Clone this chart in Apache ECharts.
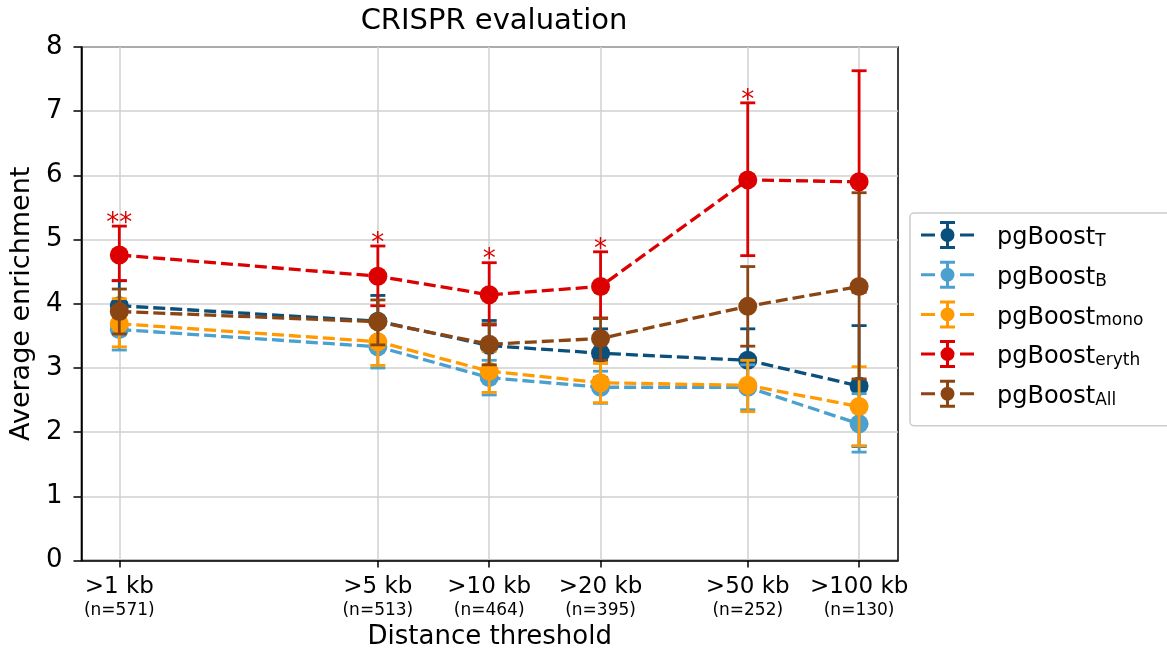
<!DOCTYPE html>
<html>
<head>
<meta charset="utf-8">
<script src="https://cdn.jsdelivr.net/npm/echarts@6/dist/echarts.min.js"></script>
<style>html,body{margin:0;padding:0;background:#fff}#c{width:1167px;height:655px}</style>
</head>
<body>
<div id="c"></div>
<script>
// ---- data ----
const thresholds = [1, 5, 10, 20, 50, 100];
const xLabels = ['>1 kb', '>5 kb', '>10 kb', '>20 kb', '>50 kb', '>100 kb'];
const nLabels = ['(n=571)', '(n=513)', '(n=464)', '(n=395)', '(n=252)', '(n=130)'];
const yTicks = [0, 1, 2, 3, 4, 5, 6, 7, 8];

const seriesNames = ['pgBoost_T', 'pgBoost_B', 'pgBoost_mono', 'pgBoost_eryth', 'pgBoost_All'];
const seriesSubs = ['T', 'B', 'mono', 'eryth', 'All'];
const seriesColors = ['#0b4f7c', '#4aa0cf', '#ff9a00', '#dc0000', '#8b4513'];

const tMean  = [3.97, 3.73, 3.35, 3.23, 3.12, 2.72];
const tLow   = [3.62, 3.33, 2.97, 2.85, 2.65, 1.78];
const tHigh  = [4.36, 4.13, 3.74, 3.61, 3.61, 3.66];

const bMean  = [3.60, 3.33, 2.85, 2.70, 2.70, 2.13];
const bLow   = [3.28, 3.00, 2.58, 2.45, 2.35, 1.69];
const bHigh  = [3.95, 3.68, 3.12, 2.95, 3.05, 2.60];

const monoMean = [3.69, 3.41, 2.95, 2.77, 2.73, 2.40];
const monoLow  = [3.33, 3.04, 2.62, 2.46, 2.32, 1.79];
const monoHigh = [4.08, 3.78, 3.26, 3.07, 3.12, 3.02];

const erythMean = [4.76, 4.43, 4.14, 4.27, 5.93, 5.90];
const erythLow  = [4.36, 3.97, 3.67, 3.78, 4.75, 4.18];
const erythHigh = [5.21, 4.90, 4.64, 4.81, 7.13, 7.63];

const allMean = [3.88, 3.72, 3.37, 3.46, 3.96, 4.27];
const allLow  = [3.53, 3.36, 3.05, 3.12, 3.34, 2.83];
const allHigh = [4.23, 4.06, 3.69, 3.77, 4.58, 5.73];

const erythStars = ['**', '*', '*', '*', '*', ''];

// ---- build ----
const means = [tMean, bMean, monoMean, erythMean, allMean];
const lows = [tLow, bLow, monoLow, erythLow, allLow];
const highs = [tHigh, bHigh, monoHigh, erythHigh, allHigh];
const FONT = '"DejaVu Sans", sans-serif';

function nearestIdx(v) {
  let best = 0, bd = Infinity;
  thresholds.forEach((t, i) => { const d = Math.abs(Math.log(t) - Math.log(v)); if (d < bd) { bd = d; best = i; } });
  return best;
}

const legendIcon = 'path://M0,12.5h14v3h-14z M39,12.5h14v3h-14z M25,1h3v26h-3z M19,0h15v3h-15z M19,25h15v3h-15z M19.5,14a7,7 0 1,1 14,0a7,7 0 1,1 -14,0z';

const series = [];
seriesNames.forEach((name, k) => {
  const col = seriesColors[k];
  series.push({
    type: 'custom',
    name: name,
    z: 2 + k * 3,
    silent: true,
    renderItem: function (params, api) {
      const x = api.value(0);
      const top = api.coord([x, api.value(2)]);
      const bot = api.coord([x, api.value(1)]);
      const hw = 7.5;
      const st = { stroke: col, lineWidth: 2.8 };
      return {
        type: 'group',
        children: [
          { type: 'line', shape: { x1: top[0], y1: top[1], x2: bot[0], y2: bot[1] }, style: st },
          { type: 'line', shape: { x1: top[0] - hw, y1: top[1], x2: top[0] + hw, y2: top[1] }, style: st },
          { type: 'line', shape: { x1: bot[0] - hw, y1: bot[1], x2: bot[0] + hw, y2: bot[1] }, style: st }
        ]
      };
    },
    data: thresholds.map((t, i) => [t, lows[k][i], highs[k][i]])
  });
  series.push({
    type: 'line',
    name: name,
    z: 3 + k * 3,
    symbol: 'circle',
    symbolSize: 19,
    showSymbol: true,
    itemStyle: { color: col },
    lineStyle: { color: col, width: 3.3, type: [12, 5] },
    data: thresholds.map((t, i) => [t, means[k][i]]),
    animation: false
  });
});
// significance stars for eryth
series.push({
  type: 'custom',
  z: 20,
  silent: true,
  renderItem: function (params, api) {
    const p = api.coord([api.value(0), api.value(1)]);
    return {
      type: 'text',
      x: p[0], y: p[1] + 11,
      style: { text: erythStars[params.dataIndex], fill: '#dc0000', font: '26px ' + FONT, align: 'center', verticalAlign: 'bottom' }
    };
  },
  data: thresholds.map((t, i) => [t, erythHigh[i]])
});

const option = {
  animation: false,
  backgroundColor: '#fff',
  title: {
    text: 'CRISPR evaluation',
    left: 489, top: 2, textAlign: 'center',
    textStyle: { fontFamily: FONT, fontSize: 29, fontWeight: 'normal', color: '#000' }
  },
  grid: {
    left: 80, right: 269, top: 47, bottom: 92,
    show: true, borderColor: '#000', borderWidth: 1.5, backgroundColor: 'transparent'
  },
  legend: {
    data: seriesNames.map((n, k) => ({ name: n, icon: legendIcon, itemStyle: { color: seriesColors[k] } })),
    orient: 'vertical',
    left: 910, top: 213,
    itemWidth: 53, itemHeight: 28,
    itemGap: 10.7,
    padding: [8, 30, 17, 11],
    backgroundColor: '#fff',
    borderColor: '#cccccc', borderWidth: 1.5, borderRadius: 4,
    selectedMode: false,
    formatter: function (name) {
      const k = seriesNames.indexOf(name);
      return '{m|pgBoost}{s|' + seriesSubs[k] + '}';
    },
    textStyle: {
      padding: [0, 0, 0, 18],
      rich: {
        m: { fontFamily: FONT, fontSize: 24, color: '#000', lineHeight: 30, verticalAlign: 'bottom' },
        s: { fontFamily: FONT, fontSize: 17, color: '#000', lineHeight: 16, verticalAlign: 'bottom' }
      }
    }
  },
  xAxis: {
    type: 'log',
    logBase: 10,
    min: 0.79,
    max: 127.4,
    name: 'Distance threshold',
    nameLocation: 'middle',
    nameGap: 61,
    nameTextStyle: { fontFamily: FONT, fontSize: 26, color: '#000' },
    axisLine: { show: true, onZero: false, lineStyle: { color: '#000', width: 1.5 } },
    axisTick: { show: true, customValues: thresholds, length: 7, lineStyle: { color: '#000', width: 1.5 } },
    axisLabel: {
      customValues: thresholds,
      margin: 13,
      formatter: function (v) {
        const i = nearestIdx(v);
        return '{a|' + xLabels[i] + '}\n{b|' + nLabels[i] + '}';
      },
      rich: {
        a: { fontFamily: FONT, fontSize: 23, color: '#000', lineHeight: 27 },
        b: { fontFamily: FONT, fontSize: 17, color: '#000', lineHeight: 20 }
      }
    },
    splitLine: { show: true, lineStyle: { color: '#d0d0d0', width: 1.5 } },
    minorTick: { show: false },
    minorSplitLine: { show: false }
  },
  yAxis: {
    type: 'value',
    min: 0, max: 8, interval: 1,
    name: 'Average enrichment',
    nameLocation: 'middle',
    nameGap: 45,
    nameTextStyle: { fontFamily: FONT, fontSize: 27, color: '#000' },
    axisLine: { show: true, lineStyle: { color: '#000', width: 1.5 } },
    axisTick: { show: true, length: 8, lineStyle: { color: '#000', width: 1.5 } },
    axisLabel: {
      margin: 19,
      fontFamily: FONT, fontSize: 26, color: '#000',
      formatter: function (v) { return yTicks.indexOf(v) >= 0 ? String(v) : ''; }
    },
    splitLine: { show: true, lineStyle: { color: '#d0d0d0', width: 1.5 } }
  },
  series: series
};

const chart = echarts.init(document.getElementById('c'), null, { renderer: 'canvas' });
chart.setOption(option);
</script>
</body>
</html>
